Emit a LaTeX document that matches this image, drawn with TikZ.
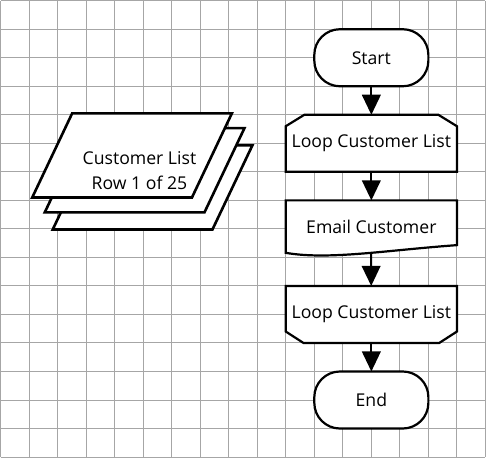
\documentclass[tikz,border=0pt]{standalone}
\usepackage{fontspec}
\setmainfont{Open Sans}
\usetikzlibrary{arrows.meta}

\begin{document}
\begin{tikzpicture}[scale = 0.5, font = \fontsize{8.8}{12.4}\selectfont,
    gridline/.style = {draw, gray!70, line width = 0.5pt},
    boxline/.style = {draw, fill = white, line width = 1.1pt, line join = miter},
    sheet/.style = {draw, fill = white, line width = 1.3pt},
    flow/.style = {draw, line width = 1pt, -{Triangle[width = 9.3pt, length = 10pt]}},
    terminal/.style = {boxline, rounded corners = 0.45cm, minimum width = 2cm, minimum height = 1cm, inner sep = 0pt, outer sep = 0pt},
    slot/.style = {minimum width = 3cm, minimum height = 1cm, inner sep = 0pt, outer sep = 0pt}]
    \useasboundingbox (-0.02,-0.035) rectangle (17.02,16.025);
    % background grid
    \path[gridline] (0,0) grid (17,16);
    % stacked data sheets
    \foreach \dx/\dy in {0.72/-1.12, 0.44/-0.52, 0/0}
        \path[sheet, shift = {(\dx,\dy)}] (1.11,9.10) -- ++(5.6,0) -- ++(1.4,2.95) -- ++(-5.6,0) -- cycle;
    \node[inner sep = 0pt, align = center] (rows) at (4.87,10.05) {Customer List\\Row 1 of 25};
    % outlines
    \path[boxline] (10.65,12) -- (15.35,12) -- (16,11.6) -- (16,10) -- (10,10) -- (10,11.6) -- cycle;
    \path[boxline] (10,9) -- (16,9) -- (16,7.43) .. controls (13.5,7.25) and (11.5,6.9) .. coordinate[pos = 0.44] (emailfoot) (10,7.16) -- cycle;
    \path[boxline] (10,6) -- (16,6) -- (16,4.4) -- (15.38,4) -- (10.62,4) -- (10,4.4) -- cycle;
    % flow steps
    \node[terminal] (start) at (13,14) {Start};
    \node[slot] (loopA) at (13,11) {Loop Customer List};
    \node[slot, minimum height = 0.92cm] (email) at (13,8.08) {Email Customer};
    \node[slot] (loopB) at (13,5) {Loop Customer List};
    \node[terminal] (finish) at (13,2) {End};
    % connectors
    \path[flow] (start) to (loopA);
    \path[flow] (loopA) to (email);
    \path[flow] (emailfoot) to (loopB);
    \path[flow] (loopB) to (finish);
\end{tikzpicture}
\end{document}
